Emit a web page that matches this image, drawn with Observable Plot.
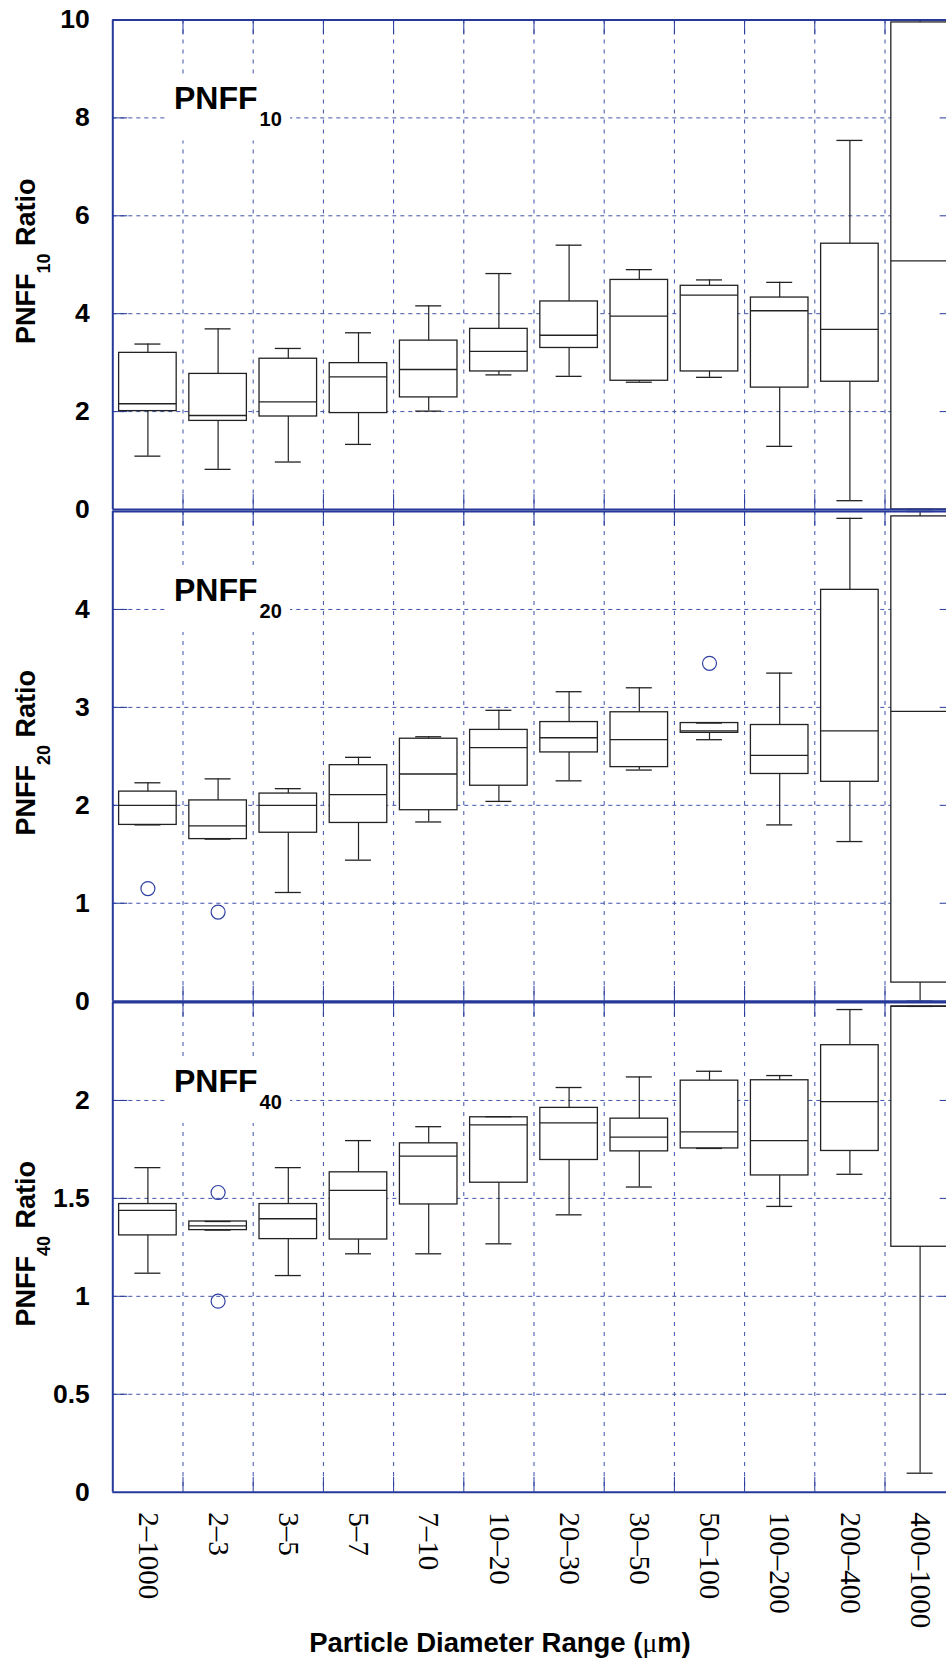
<!DOCTYPE html>
<html>
<head>
<meta charset="utf-8">
<script src="https://cdn.jsdelivr.net/npm/d3@7"></script>
<script src="https://cdn.jsdelivr.net/npm/@observablehq/plot@0.6"></script>
<style>
  html, body { margin: 0; padding: 0; background: #fff; overflow: hidden; }
  #chart { position: relative; width: 946px; height: 1661px; }
  #chart svg { position: absolute; left: 0; top: 0; }
</style>
</head>
<body>
<div id="chart"></div>
<script>
// Particle diameter ranges (µm)
const categories = ["2–1000", "2–3", "3–5", "5–7", "7–10", "10–20", "20–30", "30–50", "50–100", "100–200", "200–400", "400–1000"];

// PNFF10 ratio box statistics
const pnff10Low = [1.09, 0.82, 0.97, 1.33, 2.01, 2.75, 2.72, 2.60, 2.70, 1.29, 0.18, 0.00];
const pnff10Q1  = [2.01, 1.81, 1.90, 1.97, 2.29, 2.82, 3.30, 2.63, 2.82, 2.49, 2.61, 0.00];
const pnff10Med = [2.16, 1.92, 2.20, 2.71, 2.86, 3.23, 3.56, 3.95, 4.38, 4.06, 3.68, 5.08];
const pnff10Q3  = [3.20, 2.77, 3.08, 2.99, 3.45, 3.69, 4.25, 4.69, 4.57, 4.33, 5.43, 9.95];
const pnff10High = [3.38, 3.69, 3.29, 3.61, 4.16, 4.82, 5.40, 4.90, 4.69, 4.64, 7.54, 10.0];
const pnff10Outliers = [];

// PNFF20 ratio box statistics
const pnff20Low = [1.80, 1.655, 1.11, 1.44, 1.83, 2.04, 2.25, 2.36, 2.67, 1.80, 1.63, 0.00];
const pnff20Q1  = [1.80, 1.655, 1.72, 1.82, 1.95, 2.20, 2.54, 2.39, 2.74, 2.32, 2.24, 0.19];
const pnff20Med = [2.00, 1.79, 2.00, 2.11, 2.32, 2.59, 2.69, 2.67, 2.76, 2.51, 2.76, 2.96];
const pnff20Q3  = [2.14, 2.05, 2.12, 2.41, 2.68, 2.77, 2.85, 2.95, 2.84, 2.82, 4.20, 4.95];
const pnff20High = [2.23, 2.27, 2.17, 2.49, 2.70, 2.97, 3.16, 3.20, 2.84, 3.35, 4.93, 5.00];
const pnff20Outliers = [{cat: "2–1000", v: 1.15}, {cat: "2–3", v: 0.91}, {cat: "50–100", v: 3.45}];

// PNFF40 ratio box statistics
const pnff40Low = [1.118, 1.338, 1.106, 1.217, 1.217, 1.268, 1.416, 1.558, 1.755, 1.459, 1.623, 0.097];
const pnff40Q1  = [1.311, 1.338, 1.292, 1.290, 1.469, 1.580, 1.696, 1.740, 1.755, 1.617, 1.742, 1.253];
const pnff40Med = [1.439, 1.360, 1.396, 1.541, 1.716, 1.875, 1.885, 1.813, 1.840, 1.795, 1.994, 2.480];
const pnff40Q3  = [1.471, 1.382, 1.471, 1.633, 1.781, 1.914, 1.962, 1.907, 2.101, 2.103, 2.282, 2.480];
const pnff40High = [1.657, 1.382, 1.657, 1.795, 1.866, 1.917, 2.066, 2.120, 2.149, 2.127, 2.464, 2.480];
const pnff40Outliers = [{cat: "2–3", v: 1.53}, {cat: "2–3", v: 0.975}];

// Y tick labels of each panel
const pnff10Ticks = [0, 2, 4, 6, 8, 10];
const pnff20Ticks = [0, 1, 2, 3, 4];
const pnff40Ticks = [0, 0.5, 1, 1.5, 2];

const W = 946, H = 1661;
const frameLeft = 112.3, frameRight = 954.7;     // axes box extends past the page edge
const xUnit = (frameRight - frameLeft) / categories.length;
const frameColor = "#26399a";
const gridColor = "#3d51aa";
const boxColor = "#222";
const outlierColor = "#2e40a2";
const sans = "'Liberation Sans', Arial, Helvetica, sans-serif";
const serif = "'Liberation Serif', 'Times New Roman', Times, serif";
const tickLen = 15;

function boxRows(lo, q1, med, q3, hi) {
  return categories.map((cat, i) => ({cat, pos: i + 1, lo: lo[i], q1: q1[i], med: med[i], q3: q3[i], hi: hi[i]}));
}

const panels = [
  {sub: "10", top: 19.5, bottom: 509, ymax: 10, ticks: pnff10Ticks,
   rows: boxRows(pnff10Low, pnff10Q1, pnff10Med, pnff10Q3, pnff10High), outliers: pnff10Outliers},
  {sub: "20", top: 511, bottom: 1000.7, ymax: 5, ticks: pnff20Ticks,
   rows: boxRows(pnff20Low, pnff20Q1, pnff20Med, pnff20Q3, pnff20High), outliers: pnff20Outliers},
  {sub: "40", top: 1002, bottom: 1491.7, ymax: 2.5, ticks: pnff40Ticks,
   rows: boxRows(pnff40Low, pnff40Q1, pnff40Med, pnff40Q3, pnff40High), outliers: pnff40Outliers, xLabels: true}
];

const boxHalf = 0.41, capHalf = 0.185;
const boundaries = d3.range(1.5, categories.length + 0.5, 1);

const chart = document.getElementById("chart");

panels.forEach(p => {
  const yUnit = (p.bottom - p.top) / p.ymax;
  const grid = p.ticks.filter(t => t > 0 && t < p.ymax);
  const out = p.outliers.map(o => ({pos: categories.indexOf(o.cat) + 1, v: o.v}));

  const marks = [
    // dotted grid
    Plot.ruleY(grid, {stroke: gridColor, strokeWidth: 1, strokeDasharray: "4,4"}),
    Plot.ruleX(boundaries, {stroke: gridColor, strokeWidth: 1, strokeDasharray: "4,6"}),
    // inward ticks on the box edges
    Plot.ruleX(boundaries, {y1: 0, y2: tickLen / yUnit, stroke: frameColor, strokeWidth: 1}),
    Plot.ruleX(boundaries, {y1: p.ymax - tickLen / yUnit, y2: p.ymax, stroke: frameColor, strokeWidth: 1}),
    Plot.ruleY(grid, {x1: 0.5, x2: 0.5 + tickLen / xUnit, stroke: frameColor, strokeWidth: 1}),
    // whiskers
    Plot.ruleX(p.rows, {x: "pos", y1: "lo", y2: "hi", stroke: boxColor, strokeWidth: 1.2}),
    // boxes
    Plot.rect(p.rows, {x1: d => d.pos - boxHalf, x2: d => d.pos + boxHalf, y1: "q1", y2: "q3",
                       fill: "white", stroke: boxColor, strokeWidth: 1.3}),
    // medians
    Plot.ruleY(p.rows, {y: "med", x1: d => d.pos - boxHalf, x2: d => d.pos + boxHalf, stroke: boxColor, strokeWidth: 1.3}),
    // whisker caps
    Plot.ruleY(p.rows, {y: "hi", x1: d => d.pos - capHalf, x2: d => d.pos + capHalf, stroke: boxColor, strokeWidth: 1.3}),
    Plot.ruleY(p.rows, {y: "lo", x1: d => d.pos - capHalf, x2: d => d.pos + capHalf, stroke: boxColor, strokeWidth: 1.3}),
    // outliers
    Plot.dot(out, {x: "pos", y: "v", r: 7, stroke: outlierColor, strokeWidth: 1.2, fill: "none"}),
    // right-side inward ticks
    Plot.ruleY(grid, {x1: 12.5 - tickLen / xUnit, x2: 12.5, stroke: frameColor, strokeWidth: 1}),
    // axes box
    Plot.ruleY([0, p.ymax], {stroke: frameColor, strokeWidth: 2}),
    Plot.ruleX([0.5], {stroke: frameColor, strokeWidth: 2}),
    // y tick labels
    Plot.axisY({ticks: p.ticks, tickSize: 0, tickPadding: 23, tickFormat: d => String(d), label: null,
                fontSize: 26.5, fontWeight: "bold", fontFamily: sans, fill: "black"})
  ];

  if (p.xLabels) {
    marks.push(Plot.text(p.rows, {x: "pos", text: "cat", frameAnchor: "bottom", dy: 20, rotate: 90,
      textAnchor: "start", lineAnchor: "middle", fontFamily: serif, fontSize: 29, fill: "black"}));
  }

  const svg = Plot.plot({
    width: W,
    height: H,
    marginLeft: frameLeft,
    marginRight: 0,
    marginTop: p.top,
    marginBottom: H - p.bottom,
    x: {domain: [0.5, categories.length + 0.5], range: [frameLeft, frameRight], axis: null},
    y: {domain: [0, p.ymax], axis: null},
    style: {background: "none", overflow: "hidden", fontFamily: sans, color: "black"},
    marks
  });

  const s = d3.select(svg);

  // panel label with a white backing box
  s.append("rect")
    .attr("x", 168).attr("y", p.top + 59).attr("width", 122).attr("height", 62)
    .attr("fill", "white");
  const lab = s.append("text")
    .attr("x", 174).attr("y", p.top + 89.5)
    .attr("text-anchor", "start")
    .attr("font-family", sans).attr("font-weight", "bold").attr("font-size", 32).attr("fill", "black");
  lab.append("tspan").text("PNFF");
  lab.append("tspan").attr("dx", 2).attr("dy", 17).attr("font-size", 20).text(p.sub);

  // y-axis title
  const yc = (p.top + p.bottom) / 2 - 3;
  const yt = s.append("text")
    .attr("transform", `translate(35,${yc}) rotate(-90)`)
    .attr("text-anchor", "middle")
    .attr("font-family", sans).attr("font-weight", "bold").attr("font-size", 27).attr("fill", "black");
  yt.append("tspan").text("PNFF");
  yt.append("tspan").attr("dy", 15).attr("font-size", 18).text(p.sub);
  yt.append("tspan").attr("dy", -15).text(" Ratio");

  if (p.xLabels) {
    const xt = s.append("text")
      .attr("x", 500).attr("y", 1652)
      .attr("text-anchor", "middle")
      .attr("font-family", sans).attr("font-weight", "bold").attr("font-size", 27.5).attr("fill", "black");
    xt.append("tspan").text("Particle Diameter Range (");
    xt.append("tspan").attr("font-family", serif).attr("font-weight", "normal").text("μ");
    xt.append("tspan").text("m)");
  }

  chart.appendChild(svg);
});
</script>
</body>
</html>
